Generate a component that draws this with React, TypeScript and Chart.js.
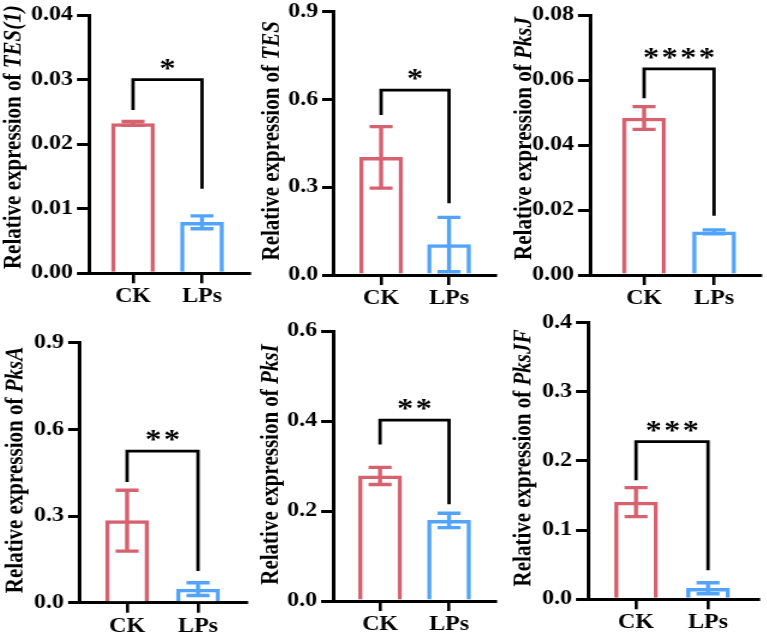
import { useEffect, useRef } from 'react';
import { Chart, registerables } from 'chart.js';

Chart.register(...registerables);

// ---- data ----
const groups = ['CK', 'LPs'];
const genes = ['TES(1)', 'TES', 'PksJ', 'PksA', 'PksI', 'PksJF'];
const ckMean = [0.0232, 0.402, 0.0483, 0.284, 0.278, 0.1405];
const ckSd = [0.0003, 0.105, 0.0035, 0.1055, 0.019, 0.021];
const lpsMean = [0.0079, 0.104, 0.0133, 0.047, 0.179, 0.016];
const lpsSd = [0.001, 0.093, 0.0006, 0.022, 0.016, 0.008];
const yMax = [0.04, 0.9, 0.08, 0.9, 0.6, 0.4];
const yStep = [0.01, 0.3, 0.02, 0.3, 0.2, 0.1];
const yDecimals = [2, 1, 2, 1, 1, 1];
const stars = ['*', '*', '****', '**', '**', '***'];
const bracketTop = [0.03, 0.632, 0.0634, 0.525, 0.402, 0.228];
const bracketCK = [0.0253, 0.547, 0.0544, 0.418, 0.348, 0.172];
const bracketLPs = [0.0131, 0.245, 0.0182, 0.11, 0.215, 0.042];

// ---- layout of the six panels on the page ----
const frames = [
  { axis: 89, top: 15, bottom: 273.3, right: 250, xMin: -0.638, xMax: 1.696, titleX: 20, titleShift: -7 },
  { axis: 334.3, top: 11.7, bottom: 275, right: 496, xMin: -0.691, xMax: 1.691, titleX: 279, titleShift: -2.5 },
  { axis: 590.3, top: 15, bottom: 275, right: 761, xMin: -0.771, xMax: 1.671, titleX: 531, titleShift: -6.5 },
  { axis: 80, top: 342.7, bottom: 602.7, right: 246.7, xMin: -0.662, xMax: 1.69, titleX: 22, titleShift: -2.7 },
  { axis: 333.3, top: 331, bottom: 601, right: 496, xMin: -0.681, xMax: 1.681, titleX: 278, titleShift: -1.5 },
  { axis: 588.3, top: 322.7, bottom: 599.3, right: 759.3, xMin: -0.667, xMax: 1.708, titleX: 531, titleShift: -3 },
];

const SX = 1.2; // horizontal stretch of the drawing
const AXIS_W = 90;
const RIGHT_PAD = 10;
const TOP_PAD = 22;
const BOTTOM_H = 45;
const FAMILY = '"Liberation Serif", "Times New Roman", serif';
const RED = '#D6616F';
const BLUE = '#52A4FB';
const colors = [RED, BLUE];

function Panel({ index }: { index: number }) {
  const ref = useRef<HTMLCanvasElement>(null);
  const f = frames[index];
  const left = f.axis - AXIS_W;
  const dispW = f.right + RIGHT_PAD - left;
  const intW = Math.round(dispW / SX);
  const sx = dispW / intW;
  const top = Math.round(f.top - TOP_PAD);
  const height = Math.round(f.bottom + BOTTOM_H) - top;
  const padTop = f.top - top;
  const xAxisH = height - padTop - (f.bottom - f.top);

  useEffect(() => {
    const canvas = ref.current;
    if (!canvas) return;
    const means = [ckMean[index], lpsMean[index]];
    const sds = [ckSd[index], lpsSd[index]];

    const overlay = {
      id: 'errorsAndMarks',
      afterDatasetsDraw(chart: any) {
        const ctx = chart.ctx as CanvasRenderingContext2D;
        const xs = chart.scales.x;
        const ys = chart.scales.y;
        ctx.save();
        // error bars
        const capHalf = 11.5 / sx;
        ctx.lineWidth = 3.4;
        ctx.lineCap = 'butt';
        means.forEach((m, k) => {
          const x = xs.getPixelForValue(k);
          const yT = ys.getPixelForValue(m + sds[k]);
          const yB = ys.getPixelForValue(Math.max(0, m - sds[k]));
          ctx.strokeStyle = colors[k];
          ctx.beginPath();
          ctx.moveTo(x, yT);
          ctx.lineTo(x, yB);
          ctx.moveTo(x - capHalf, yT);
          ctx.lineTo(x + capHalf, yT);
          ctx.moveTo(x - capHalf, yB);
          ctx.lineTo(x + capHalf, yB);
          ctx.stroke();
        });
        // significance bracket
        const x0 = xs.getPixelForValue(0);
        const x1 = xs.getPixelForValue(1);
        const yb = ys.getPixelForValue(bracketTop[index]);
        ctx.strokeStyle = '#000';
        ctx.lineWidth = 2.8;
        ctx.lineJoin = 'miter';
        ctx.beginPath();
        ctx.moveTo(x0, ys.getPixelForValue(bracketCK[index]));
        ctx.lineTo(x0, yb);
        ctx.lineTo(x1, yb);
        ctx.lineTo(x1, ys.getPixelForValue(bracketLPs[index]));
        ctx.stroke();
        ctx.fillStyle = '#000';
        ctx.font = `bold 27px ${FAMILY}`;
        (ctx as any).letterSpacing = '2px';
        ctx.textAlign = 'center';
        ctx.textBaseline = 'alphabetic';
        ctx.fillText(stars[index], (x0 + x1) / 2 + 1, yb - 3);
        ctx.restore();
      },
      afterDraw(chart: any) {
        const ctx = chart.ctx as CanvasRenderingContext2D;
        const area = chart.chartArea;
        const plain = 'Relative expression of ';
        const gene = genes[index];
        const fPlain = `bold 21px ${FAMILY}`;
        const fGene = `italic bold 21px ${FAMILY}`;
        ctx.save();
        ctx.font = fPlain;
        const w1 = ctx.measureText(plain).width;
        ctx.font = fGene;
        const w2 = ctx.measureText(gene).width;
        const cx = (f.titleX - left) / sx;
        const cy = (area.top + area.bottom) / 2 + f.titleShift;
        ctx.translate(cx, cy);
        ctx.rotate(-Math.PI / 2);
        ctx.fillStyle = '#000';
        ctx.textAlign = 'left';
        ctx.textBaseline = 'alphabetic';
        const start = -(w1 + w2) / 2;
        ctx.font = fPlain;
        ctx.fillText(plain, start, 0);
        ctx.font = fGene;
        ctx.fillText(gene, start + w1, 0);
        ctx.restore();
      },
    };

    const tickFont = { family: FAMILY, size: 20, weight: 'bold' as const };

    const chart = new Chart(canvas, {
      type: 'bar',
      data: {
        datasets: [
          {
            data: groups.map((_, k) => ({ x: k, y: means[k] })),
            backgroundColor: '#ffffff',
            borderColor: colors,
            borderWidth: 3.5,
            barThickness: 43 / sx,
          },
        ],
      },
      options: {
        responsive: false,
        animation: false,
        devicePixelRatio: 1,
        layout: { padding: { left: 0, top: padTop, right: RIGHT_PAD / sx, bottom: 0 } },
        plugins: { legend: { display: false }, tooltip: { enabled: false } },
        scales: {
          x: {
            type: 'linear',
            min: f.xMin,
            max: f.xMax,
            offset: false,
            afterBuildTicks: (s: any) => {
              s.ticks = groups.map((_, k) => ({ value: k }));
            },
            afterFit: (s: any) => {
              s.height = xAxisH;
            },
            ticks: {
              callback: (v: any) => groups[Number(v)] ?? '',
              font: tickFont,
              color: '#000',
              padding: 2,
              autoSkip: false,
              maxRotation: 0,
            },
            grid: {
              offset: false,
              drawOnChartArea: false,
              drawTicks: true,
              tickLength: 10,
              color: '#000',
              lineWidth: 2.6,
            },
            border: { color: '#000', width: 3 },
          },
          y: {
            type: 'linear',
            min: 0,
            max: yMax[index],
            afterFit: (s: any) => {
              s.width = AXIS_W / sx;
            },
            ticks: {
              stepSize: yStep[index],
              callback: (v: any) => Number(v).toFixed(yDecimals[index]),
              font: tickFont,
              color: '#000',
              padding: 4 / sx,
            },
            grid: {
              drawOnChartArea: false,
              drawTicks: true,
              tickLength: 12 / sx,
              color: '#000',
              lineWidth: 3,
            },
            border: { color: '#000', width: 3 },
          },
        },
      },
      plugins: [overlay],
    } as any);
    return () => chart.destroy();
  }, [index]);

  return (
    <canvas
      ref={ref}
      width={intW}
      height={height}
      style={{ position: 'absolute', left: `${left}px`, top: `${top}px`, width: `${dispW}px`, height: `${height}px` }}
    />
  );
}

export default function App() {
  return (
    <div style={{ position: 'absolute', left: 0, top: 0, width: 767, height: 642, background: '#fff' }}>
      {genes.map((_, i) => (
        <Panel key={i} index={i} />
      ))}
    </div>
  );
}
